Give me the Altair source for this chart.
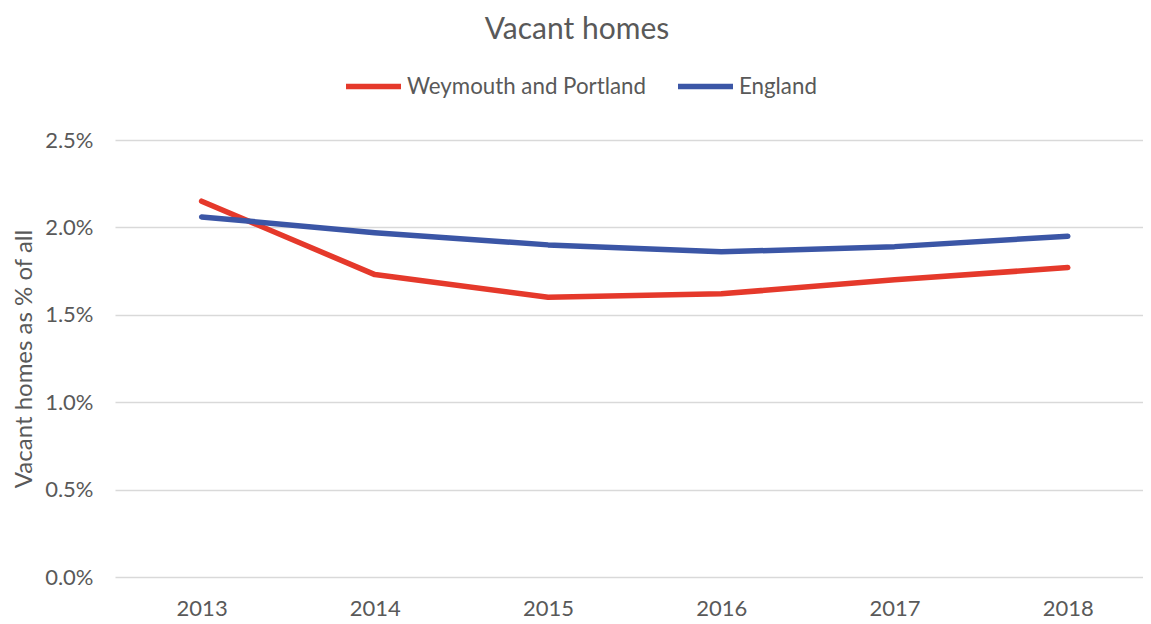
import altair as alt
import pandas as pd

years = [2013, 2014, 2015, 2016, 2017, 2018]
weymouth = [2.15, 1.73, 1.60, 1.62, 1.70, 1.77]
england = [2.06, 1.97, 1.90, 1.86, 1.89, 1.95]
series = ["Weymouth and Portland", "England"]
colors = ["#E5392B", "#3B56A6"]
y_ticks = [0.0, 0.5, 1.0, 1.5, 2.0, 2.5]

rows = []
for name, vals in zip(series, [weymouth, england]):
    for yr, v in zip(years, vals):
        rows.append({"Year": yr, "Value": v, "Series": name})
df = pd.DataFrame(rows)

FONT = "Lato"
TXT = "#595959"

chart = alt.Chart(df).mark_line(strokeWidth=5.5, strokeCap="round", strokeJoin="round").encode(
    x=alt.X("Year:Q", scale=alt.Scale(domain=[2012.5, 2018.434], nice=False, zero=False),
            axis=alt.Axis(title=None, values=years, format="d", labelAngle=0, domain=False,
                          ticks=False, grid=False, labelPadding=21, labelFontSize=22,
                          labelColor=TXT, labelFont=FONT)),
    y=alt.Y("Value:Q", scale=alt.Scale(domain=[0, 2.5], nice=False),
            axis=alt.Axis(title="Vacant homes as % of all", values=y_ticks,
                          labelExpr="format(datum.value, '.1f') + '%'",
                          domain=False, ticks=False, grid=True, gridColor="#D9D9D9", gridWidth=1.3,
                          labelPadding=22, labelFontSize=22, labelColor=TXT, labelFont=FONT,
                          titleFontSize=24, titleFont=FONT, titleColor=TXT, titleFontWeight="normal",
                          titlePadding=8)),
    color=alt.Color("Series:N", sort=series,
                    scale=alt.Scale(domain=series, range=colors),
                    legend=alt.Legend(title=None, orient="none", direction="horizontal",
                                      legendX=228, legendY=-84,
                                      symbolType="stroke", symbolSize=3025, symbolStrokeWidth=5.5,
                                      labelFontSize=22.3, labelFont=FONT, labelColor=TXT, labelLimit=0,
                                      labelOffset=3, columnPadding=21)),
).properties(
    width=1028,
    height=437,
    title=alt.TitleParams("Vacant homes", fontSize=30, font=FONT, color=TXT, fontWeight="normal",
                          anchor="middle", dx=-52, offset=11),
    autosize=alt.AutoSizeParams(type="none"),
    padding={"left": 107, "top": 132, "right": 0, "bottom": 46},
).configure_view(stroke=None)

chart.save("out.html", embed_options={"renderer": "svg", "actions": False})
